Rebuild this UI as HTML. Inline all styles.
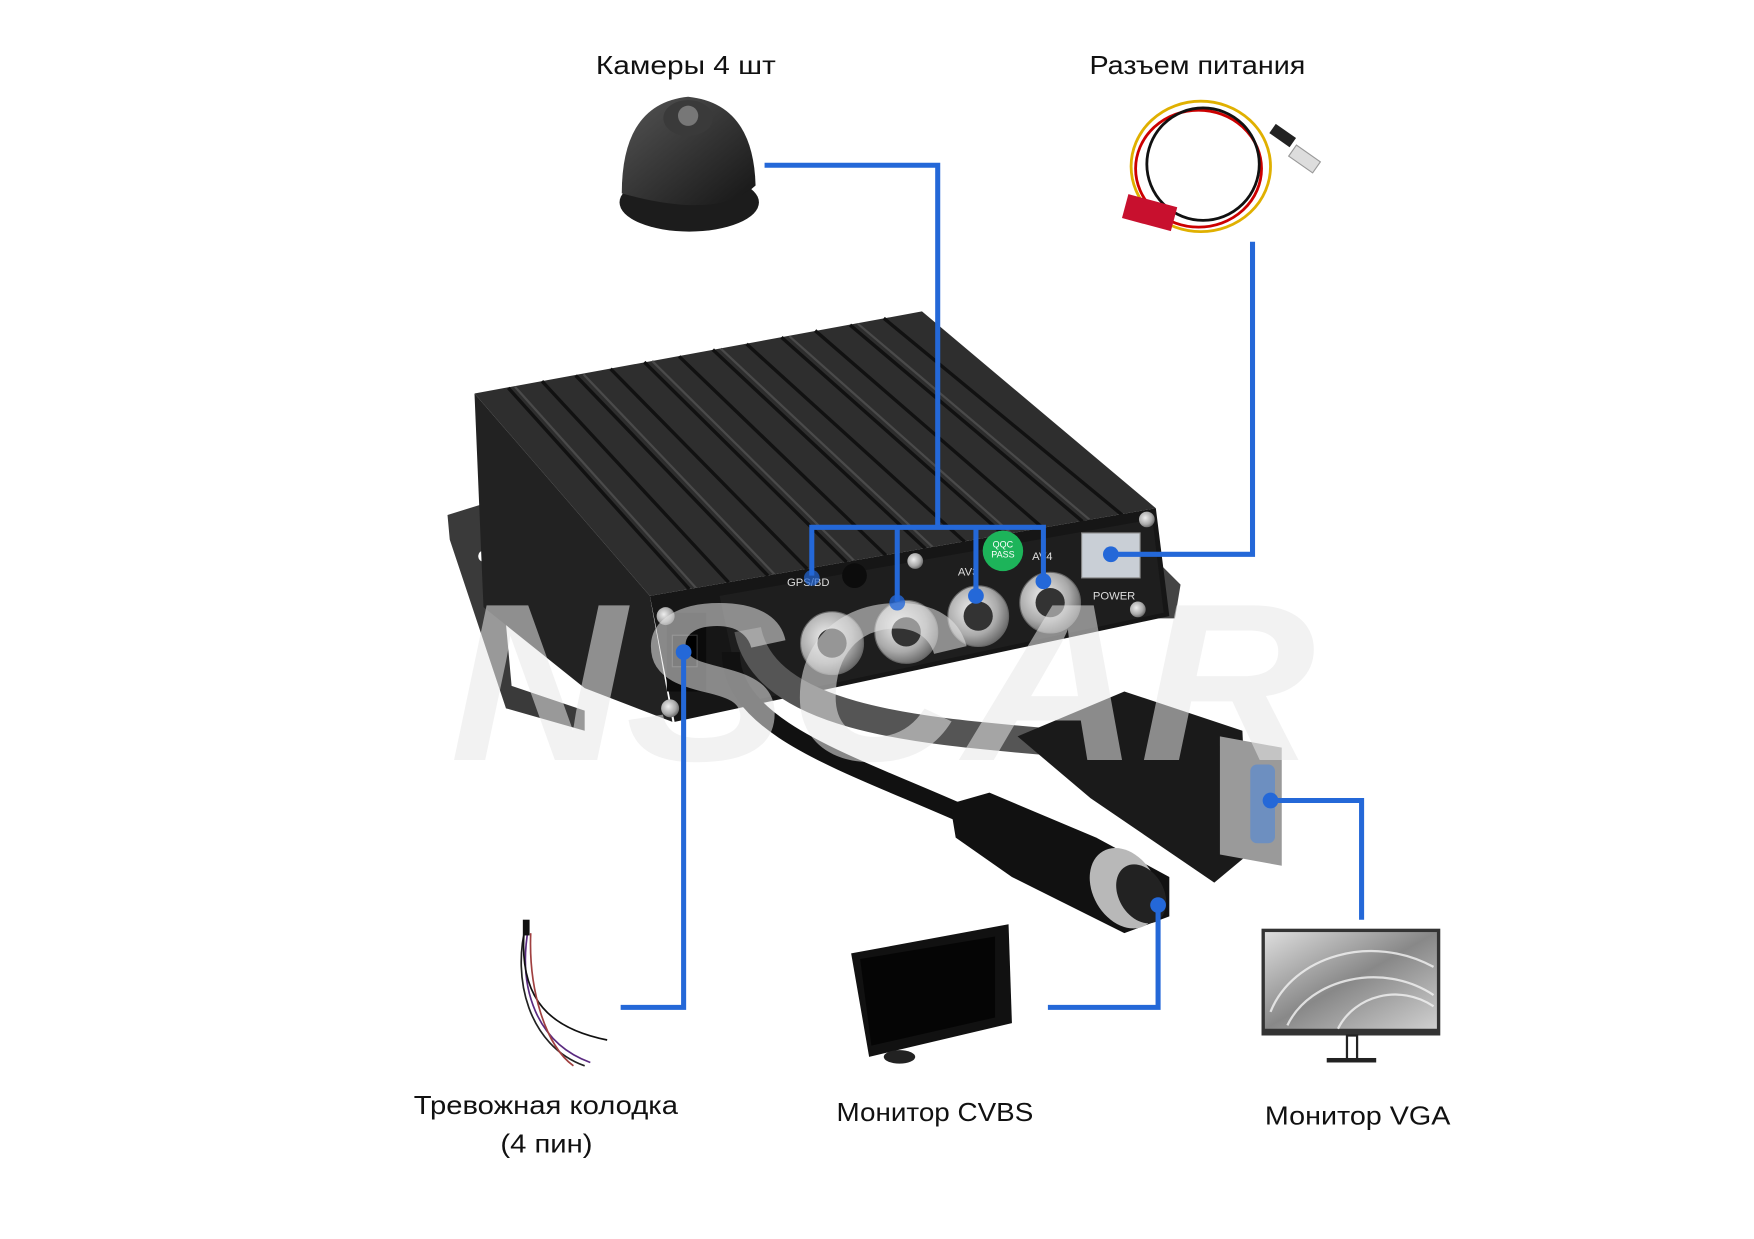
<!DOCTYPE html>
<html><head><meta charset="utf-8"><style>
html,body{margin:0;padding:0;background:#fff;}
svg{display:block;}
text{font-family:"Liberation Sans","DejaVu Sans",sans-serif;fill:#111;}
</style></head><body>
<svg width="1754" height="1239" viewBox="0 0 1560 1102" xmlns="http://www.w3.org/2000/svg">
<defs>
<linearGradient id="scr" x1="0" y1="0" x2="1" y2="1"><stop offset="0" stop-color="#ddd"/><stop offset=".5" stop-color="#888"/><stop offset="1" stop-color="#cfcfcf"/></linearGradient>
<radialGradient id="met" cx=".4" cy=".4" r=".7"><stop offset="0" stop-color="#eee"/><stop offset=".6" stop-color="#aaa"/><stop offset="1" stop-color="#555"/></radialGradient>
<linearGradient id="dome" x1="0" y1="0" x2="1" y2="1"><stop offset="0" stop-color="#555"/><stop offset="1" stop-color="#151515"/></linearGradient>
</defs>

<!-- Labels -->
<text x="530" y="66" font-size="23" textLength="160" lengthAdjust="spacingAndGlyphs">Камеры  4 шт</text>
<text x="969" y="66" font-size="23" textLength="192" lengthAdjust="spacingAndGlyphs">Разъем питания</text>
<text x="368" y="991" font-size="23" textLength="235" lengthAdjust="spacingAndGlyphs">Тревожная колодка</text>
<text x="445" y="1025" font-size="23" textLength="82" lengthAdjust="spacingAndGlyphs">(4 пин)</text>
<text x="744" y="997" font-size="23" textLength="175" lengthAdjust="spacingAndGlyphs">Монитор CVBS</text>
<text x="1125" y="1000" font-size="23" textLength="165" lengthAdjust="spacingAndGlyphs">Монитор VGA</text>

<!-- Camera -->
<ellipse cx="613" cy="180" rx="62" ry="26" fill="#1c1c1c"/>
<path d="M553,172 Q553,92 612,86 Q670,92 672,165 Q640,196 553,172Z" fill="url(#dome)"/>
<ellipse cx="612" cy="105" rx="22" ry="16" fill="#3a3a3a"/>
<ellipse cx="612" cy="103" rx="9" ry="9" fill="#777"/>

<!-- Power cable -->
<g fill="none" stroke-width="2.5">
<ellipse cx="1068" cy="148" rx="62" ry="58" stroke="#e0b000"/>
<ellipse cx="1066" cy="150" rx="56" ry="52" stroke="#c00"/>
<ellipse cx="1070" cy="146" rx="50" ry="50" stroke="#111"/>
</g>
<rect x="1000" y="178" width="45" height="22" fill="#c8102e" transform="rotate(15 1022 189)"/>
<rect x="1148" y="135" width="26" height="12" fill="#ddd" stroke="#999" transform="rotate(35 1160 140)"/>
<rect x="1130" y="115" width="22" height="10" fill="#222" transform="rotate(35 1140 120)"/>

<!-- DVR flanges -->
<polygon points="398,458 440,445 455,610 520,632 520,650 450,630 400,480" fill="#3a3a3a"/>
<rect x="425" y="488" width="20" height="10" rx="5" fill="#fff" transform="rotate(-20 435 493)"/>
<rect x="498" y="594" width="22" height="10" rx="5" fill="#fff" transform="rotate(-20 509 599)"/>
<polygon points="1030,500 1050,520 1045,550 1030,550" fill="#444"/>
<polygon points="422,350 578,530 598,642 520,612 430,540" fill="#222"/>
<polygon points="422,350 820,277 1028,452 578,530" fill="#2e2e2e"/>
<g stroke="#111" stroke-width="3">
<line x1="452" y1="345" x2="613" y2="524"/><line x1="482" y1="339" x2="648" y2="518"/>
<line x1="512" y1="334" x2="683" y2="512"/><line x1="543" y1="328" x2="718" y2="506"/>
<line x1="573" y1="322" x2="753" y2="500"/><line x1="604" y1="317" x2="788" y2="494"/>
<line x1="634" y1="311" x2="823" y2="488"/><line x1="664" y1="306" x2="858" y2="482"/>
<line x1="695" y1="300" x2="893" y2="476"/><line x1="725" y1="294" x2="928" y2="470"/>
<line x1="756" y1="289" x2="963" y2="464"/><line x1="786" y1="283" x2="998" y2="458"/>
</g>
<g stroke="#4a4a4a" stroke-width="2">
<line x1="458" y1="344" x2="619" y2="523"/><line x1="519" y1="333" x2="689" y2="511"/>
<line x1="580" y1="321" x2="760" y2="499"/><line x1="641" y1="310" x2="830" y2="487"/>
<line x1="702" y1="299" x2="900" y2="475"/><line x1="763" y1="288" x2="970" y2="463"/>
</g>
<polygon points="578,530 1028,452 1040,548 600,642" fill="#161616"/>
<polygon points="640,530 1025,462 1035,545 660,625" fill="#1e1e1e"/>
<rect x="593" y="545" width="35" height="70" fill="#0b0b0b"/>
<rect x="598" y="565" width="22" height="28" fill="#000" stroke="#333"/>
<circle cx="592" cy="548" r="8" fill="url(#met)"/>
<circle cx="596" cy="630" r="8" fill="url(#met)"/>
<circle cx="760" cy="512" r="11" fill="#0c0c0c"/>
<circle cx="814" cy="499" r="7" fill="url(#met)"/>
<circle cx="1020" cy="462" r="7" fill="url(#met)"/>
<circle cx="1012" cy="542" r="7" fill="url(#met)"/>
<g fill="url(#met)" stroke="#666">
<circle cx="740" cy="572" r="28"/><circle cx="806" cy="562" r="28"/>
<circle cx="870" cy="548" r="27"/><circle cx="934" cy="536" r="27"/>
</g>
<g fill="#333"><circle cx="740" cy="572" r="13"/><circle cx="806" cy="562" r="13"/><circle cx="870" cy="548" r="13"/><circle cx="934" cy="536" r="13"/></g>
<circle cx="892" cy="490" r="18" fill="#1db45a"/>
<text x="892" y="487" font-size="8" text-anchor="middle" style="fill:#fff">QQC</text>
<text x="892" y="496" font-size="8" text-anchor="middle" style="fill:#fff">PASS</text>
<rect x="962" y="474" width="52" height="40" fill="#c9cfd6" stroke="#888"/>
<g font-size="10"><text x="700" y="521" style="fill:#ddd">GPS/BD</text><text x="852" y="512" style="fill:#ddd">AV3</text><text x="918" y="498" style="fill:#ddd">AV4</text><text x="972" y="533" style="fill:#ddd">POWER</text></g>

<!-- cables -->
<path d="M665,560 C680,640 820,650 935,660" fill="none" stroke="#555" stroke-width="24"/>
<path d="M650,580 C650,650 760,680 870,730" fill="none" stroke="#111" stroke-width="16"/>
<polygon points="905,655 1000,615 1105,650 1110,760 1080,785 970,710" fill="#1a1a1a"/>
<polygon points="1085,655 1140,665 1140,770 1085,760" fill="#9a9a9a"/>
<rect x="1112" y="680" width="22" height="70" rx="6" fill="#6d8fc0"/>
<polygon points="845,715 880,705 975,745 1040,780 1040,815 1000,830 900,780 850,745" fill="#111"/>
<ellipse cx="1000" cy="790" rx="28" ry="38" fill="#b8b8b8" transform="rotate(-30 1000 790)"/>
<ellipse cx="1015" cy="795" rx="20" ry="28" fill="#222" transform="rotate(-30 1015 795)"/>

<!-- watermark (light overlay) -->
<text x="400" y="676" font-size="200" font-weight="bold" font-style="italic" textLength="770" lengthAdjust="spacingAndGlyphs" style="fill:#e8e8e8;opacity:.55">NSCAR</text>

<!-- Alarm wires -->
<g fill="none" stroke-width="1.5">
<path d="M468,822 C455,870 470,930 520,948" stroke="#222"/>
<path d="M470,825 C460,880 478,928 525,945" stroke="#5a2a80"/>
<path d="M466,830 C462,890 490,915 540,925" stroke="#111"/>
<path d="M472,830 C470,880 485,930 510,948" stroke="#a04040"/>
</g>
<rect x="465" y="818" width="6" height="14" fill="#111"/>

<!-- CVBS monitor -->
<polygon points="757,848 897,822 900,910 773,940" fill="#111"/>
<polygon points="765,853 885,833 885,905 775,930" fill="#050505"/>
<ellipse cx="800" cy="940" rx="14" ry="6" fill="#222"/>

<!-- VGA monitor -->
<rect x="1122" y="826" width="159" height="95" fill="#333"/>
<rect x="1125" y="829" width="153" height="86" fill="url(#scr)"/>
<g fill="none" stroke="#f4f4f4" stroke-width="2" opacity=".8">
<path d="M1130,900 C1150,850 1220,830 1275,860"/>
<path d="M1145,912 C1165,870 1230,855 1275,885"/>
<path d="M1190,915 C1205,885 1245,875 1275,895"/>
</g>
<rect x="1198" y="921" width="9" height="22" fill="none" stroke="#222" stroke-width="2"/>
<rect x="1180" y="941" width="44" height="4" fill="#222"/>

<!-- Blue connectors -->
<g fill="none" stroke="#2468d8" stroke-width="4.5">
<polyline points="680,147 834,147 834,469"/>
<polyline points="722,512 722,469 928,469 928,517"/>
<line x1="798" y1="469" x2="798" y2="535"/>
<line x1="868" y1="469" x2="868" y2="530"/>
<polyline points="1114,215 1114,493 988,493"/>
<polyline points="608,580 608,896 552,896"/>
<polyline points="1030,805 1030,896 932,896"/>
<polyline points="1130,712 1211,712 1211,818"/>
</g>
<g fill="#2468d8">
<circle cx="722" cy="514" r="7" opacity=".7"/><circle cx="798" cy="536" r="7" opacity=".8"/>
<circle cx="868" cy="530" r="7"/><circle cx="928" cy="517" r="7"/>
<circle cx="988" cy="493" r="7"/><circle cx="608" cy="580" r="7"/>
<circle cx="1030" cy="805" r="7"/><circle cx="1130" cy="712" r="7"/>
</g>
</svg>
</body></html>
